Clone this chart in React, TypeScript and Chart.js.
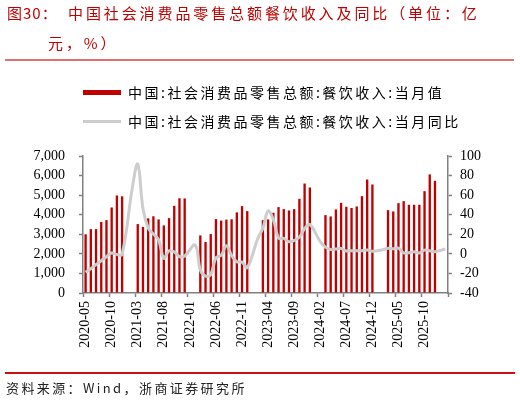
import React, { useEffect, useRef } from "react";
import { Chart, registerables } from "chart.js";

Chart.register(...registerables);

const months: string[] = [
  "2020-05", "2020-06", "2020-07", "2020-08", "2020-09", "2020-10", "2020-11", "2020-12",
  "2021-01", "2021-02", "2021-03", "2021-04", "2021-05", "2021-06", "2021-07", "2021-08", "2021-09", "2021-10", "2021-11", "2021-12",
  "2022-01", "2022-02", "2022-03", "2022-04", "2022-05", "2022-06", "2022-07", "2022-08", "2022-09", "2022-10", "2022-11", "2022-12",
  "2023-01", "2023-02", "2023-03", "2023-04", "2023-05", "2023-06", "2023-07", "2023-08", "2023-09", "2023-10", "2023-11", "2023-12",
  "2024-01", "2024-02", "2024-03", "2024-04", "2024-05", "2024-06", "2024-07", "2024-08", "2024-09", "2024-10", "2024-11", "2024-12",
  "2025-01", "2025-02", "2025-03", "2025-04", "2025-05", "2025-06", "2025-07", "2025-08", "2025-09", "2025-10", "2025-11", "2025-12",
  "2026-01", "2026-02",
];

// 餐饮收入:当月值 (亿元)
const monthlyValue: (number | null)[] = [
  3000, 3265, 3265, 3630, 3724, 4370, 4983, 4940,
  null, null, 3520, 3375, 3810, 3920, 3760, 3452, 3827, 4455, 4840, 4832,
  null, null, 2942, 2610, 3010, 3776, 3700, 3750, 3767, 4120, 4439, 4184,
  null, null, 3724, 3759, 4099, 4388, 4286, 4218, 4286, 4813, 5595, 5391,
  null, null, 3980, 3912, 4269, 4609, 4405, 4345, 4422, 4949, 5799, 5544,
  null, null, 4235, 4167, 4592, 4694, 4507, 4507, 4507, 5204, 6060, 5730,
  null, null,
];

// 餐饮收入:当月同比 (%)
const monthlyYoY: (number | null)[] = [
  -18.9, -15.2, -11.0, -7.0, -2.9, 0.8, -0.6, -0.6,
  null, 68.9, 91.6, 46.4, 26.6, 20.2, 14.3, -4.5, 3.1, 2.0, -2.7, -2.2,
  null, 8.9, -16.4, -22.7, -21.1, -4.0, -1.5, 8.4, -1.7, -8.1, -8.4, -14.1,
  null, 15.4, 26.3, 43.8, 35.1, 16.1, 15.8, 12.4, 13.8, 17.1, 25.8, 30.0,
  null, 12.5, 6.9, 4.4, 5.0, 5.4, 3.0, 3.3, 3.1, 3.2, 4.0, 2.7,
  null, 4.3, 5.6, 5.2, 5.9, 0.9, 1.1, 2.1, 0.9, 3.8, 3.2, 2.2,
  null, 5.0,
];

const seriesNames: string[] = [
  "中国:社会消费品零售总额:餐饮收入:当月值",
  "中国:社会消费品零售总额:餐饮收入:当月同比",
];

const titleLead = "图30：";
const titleLine1 = "中国社会消费品零售总额餐饮收入及同比（单位：亿";
const titleLine2 = "元，%）";
const sourceText = "资料来源：Wind，浙商证券研究所";

const BAR_RED = "#c00000";
const LINE_GRAY = "#cdcdcd";
const AXIS_GRAY = "#808080";
const TICK_FONT = { family: "'Liberation Serif', 'Times New Roman', serif", size: 14 };

export default function App() {
  const canvasRef = useRef<HTMLCanvasElement | null>(null);

  useEffect(() => {
    const canvas = canvasRef.current;
    if (!canvas) return;
    const chart = new Chart(canvas, {
      type: "bar",
      data: {
        labels: months,
        datasets: [
          {
            type: "bar",
            label: seriesNames[0],
            data: monthlyValue,
            backgroundColor: BAR_RED,
            borderWidth: 0,
            categoryPercentage: 1,
            barPercentage: 0.45,
            yAxisID: "y",
            order: 2,
          },
          {
            type: "line",
            label: seriesNames[1],
            data: monthlyYoY,
            borderColor: LINE_GRAY,
            borderWidth: 3,
            pointRadius: 0,
            tension: 0.4,
            spanGaps: true,
            fill: false,
            yAxisID: "y1",
            order: 1,
          },
        ],
      },
      options: {
        responsive: false,
        animation: false,
        devicePixelRatio: 1,
        layout: { padding: { top: 156, left: 0, right: 0, bottom: 41 } },
        plugins: {
          legend: { display: false },
          title: { display: false },
          tooltip: { enabled: false },
        },
        scales: {
          x: {
            type: "category",
            offset: true,
            grid: {
              offset: true,
              drawOnChartArea: false,
              drawTicks: true,
              tickLength: 4,
              tickWidth: 1.5,
              tickColor: (ctx: any) =>
                ctx.type !== "tick" || ctx.index % 5 === 0 ? AXIS_GRAY : "rgba(0,0,0,0)",
            },
            border: { color: AXIS_GRAY, width: 1.5 },
            ticks: {
              autoSkip: false,
              minRotation: 90,
              maxRotation: 90,
              padding: 4,
              color: "#000",
              font: TICK_FONT,
              callback: (_v: any, i: number) => (i % 5 === 0 ? months[i] : ""),
            },
            afterFit: (s: any) => {
              s.height = 70;
            },
          },
          y: {
            type: "linear",
            position: "left",
            min: 0,
            max: 7000,
            grid: {
              drawOnChartArea: false,
              tickLength: 4,
              tickWidth: 1.5,
              tickColor: AXIS_GRAY,
            },
            border: { color: AXIS_GRAY, width: 1.5 },
            ticks: {
              stepSize: 1000,
              autoSkip: false,
              maxTicksLimit: 20,
              padding: 14,
              color: "#000",
              font: TICK_FONT,
              callback: (v: any) => Number(v).toLocaleString("en-US"),
            },
            afterFit: (s: any) => {
              s.width = 83;
            },
          },
          y1: {
            type: "linear",
            position: "right",
            min: -40,
            max: 100,
            grid: {
              drawOnChartArea: false,
              tickLength: 4,
              tickWidth: 1.5,
              tickColor: AXIS_GRAY,
            },
            border: { color: AXIS_GRAY, width: 1.5 },
            ticks: {
              stepSize: 20,
              autoSkip: false,
              maxTicksLimit: 20,
              padding: 8,
              color: "#000",
              font: TICK_FONT,
            },
            afterFit: (s: any) => {
              s.width = 72;
            },
          },
        },
      },
    });
    return () => chart.destroy();
  }, []);

  const cjk = "'Noto Sans CJK SC', 'Noto Sans', sans-serif";

  return (
    <div style={{ position: "absolute", left: 0, top: 0, width: 520, height: 404, background: "#fff", overflow: "hidden" }}>
      <canvas ref={canvasRef} width={520} height={404} style={{ position: "absolute", left: 0, top: 0, width: 520, height: 404 }} />
      {/* title */}
      <div style={{ position: "absolute", left: 7, top: 5, fontFamily: cjk, fontSize: 15, lineHeight: "16px", color: BAR_RED, letterSpacing: "1px", whiteSpace: "nowrap" }}>
        {titleLead}
      </div>
      <div style={{ position: "absolute", left: 68, top: 5, fontFamily: cjk, fontSize: 15, lineHeight: "16px", color: BAR_RED, letterSpacing: "2.9px", whiteSpace: "nowrap" }}>
        {titleLine1}
      </div>
      <div style={{ position: "absolute", left: 48, top: 35, fontFamily: cjk, fontSize: 15, lineHeight: "16px", color: BAR_RED, letterSpacing: "2.9px", whiteSpace: "nowrap" }}>
        {titleLine2}
      </div>
      {/* top rule */}
      <div style={{ position: "absolute", left: 5, top: 59, width: 509, height: 2, background: "#e07070" }} />
      {/* legend */}
      <div style={{ position: "absolute", left: 83, top: 90, width: 38, height: 5, background: BAR_RED }} />
      <div style={{ position: "absolute", left: 128, top: 84, fontFamily: cjk, fontSize: 14, lineHeight: "16px", color: "#000", letterSpacing: "2.5px", whiteSpace: "nowrap" }}>
        {seriesNames[0]}
      </div>
      <div style={{ position: "absolute", left: 83, top: 120, width: 38, height: 3, background: LINE_GRAY }} />
      <div style={{ position: "absolute", left: 128, top: 113, fontFamily: cjk, fontSize: 14, lineHeight: "16px", color: "#000", letterSpacing: "2.5px", whiteSpace: "nowrap" }}>
        {seriesNames[1]}
      </div>
      {/* bottom rule */}
      <div style={{ position: "absolute", left: 5, top: 372, width: 510, height: 2, background: "#cc1010" }} />
      {/* source */}
      <div style={{ position: "absolute", left: 6, top: 380, fontFamily: cjk, fontSize: 13, lineHeight: "16px", color: "#222", letterSpacing: "2.4px", whiteSpace: "nowrap" }}>
        {sourceText}
      </div>
    </div>
  );
}
